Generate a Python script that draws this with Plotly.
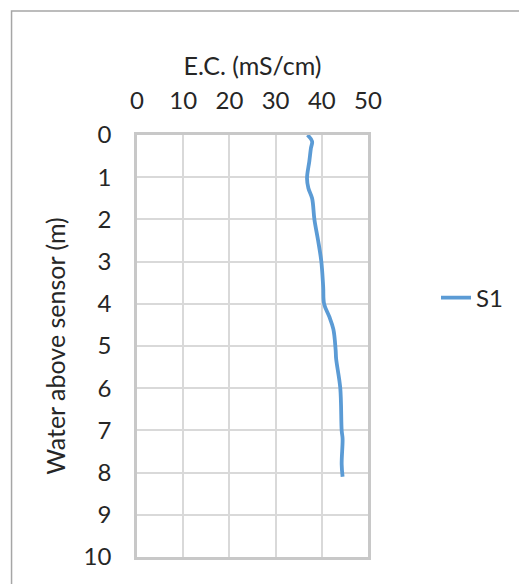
import plotly.graph_objects as go

# Conductivity profile for sensor S1
ec_ms_cm = [36.9, 37.9, 37.65, 37.3, 36.8, 37.1, 37.9, 38.4, 39.2, 39.9,
            40.3, 40.5, 41.6, 42.5, 43.0, 43.1, 44.0, 44.3, 44.5, 44.3, 44.5]
water_above_m = [0.0, 0.15, 0.31, 0.62, 1.03, 1.26, 1.5, 2.0, 2.5, 3.0,
                 3.6, 4.0, 4.3, 4.6, 5.1, 5.3, 6.0, 7.0, 7.2, 7.8, 8.1]
series_name = "S1"

x_ticks = [0, 10, 20, 30, 40, 50]
y_ticks = list(range(0, 11))

W, H = 519, 584
L, R, T, B = 137, 150, 135, 27
pw, ph = W - L - R, H - T - B

def px_x(p):
    return (p - L) / pw

def px_y(p):
    return (H - B - p) / ph

font = "Lato, 'Open Sans', sans-serif"
grid = "#d9d9d9"

fig = go.Figure()
fig.add_trace(go.Scatter(
    x=ec_ms_cm, y=water_above_m, mode="lines", name=series_name,
    line=dict(color="#5b9bd5", width=3.8, shape="spline", smoothing=1.0),
))

fig.update_layout(
    width=W, height=H,
    margin=dict(l=L, r=R, t=T, b=B),
    paper_bgcolor="white", plot_bgcolor="white",
    font=dict(family=font, size=24, color="#262626"),
    showlegend=True,
    legend=dict(x=px_x(436), y=px_y(298), xanchor="left", yanchor="middle",
                bgcolor="rgba(0,0,0,0)", font=dict(size=24, color="#262626")),
    xaxis=dict(
        side="top", range=[0, 50], tickvals=x_ticks,
        showgrid=True, gridcolor=grid, gridwidth=2,
        showline=True, linecolor="#c8c8c8", linewidth=2.5, mirror=True,
        zeroline=False, ticks="", ticklabelstandoff=14,
        title=dict(text="E.C. (mS/cm)", standoff=2, font=dict(size=25)),
    ),
    yaxis=dict(
        range=[10, 0], tickvals=y_ticks,
        showgrid=True, gridcolor=grid, gridwidth=2,
        showline=True, linecolor="#c8c8c8", linewidth=2.5, mirror=True,
        zeroline=False, ticks="", ticklabelstandoff=18,
        title=dict(text="Water above sensor (m)", standoff=11, font=dict(size=25)),
    ),
    shapes=[dict(type="rect", xref="paper", yref="paper",
                 x0=px_x(11), x1=px_x(540), y0=px_y(600), y1=px_y(11),
                 line=dict(color="#a6a6a6", width=1.5), layer="below")],
)

fig.write_html("out.html")
